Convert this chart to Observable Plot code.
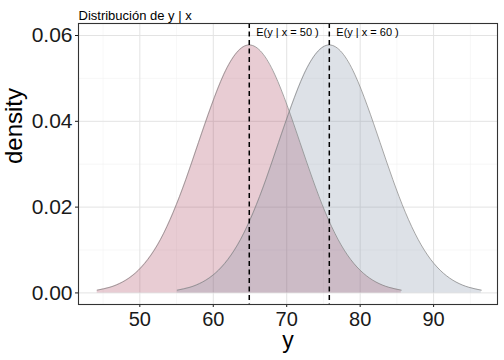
<!DOCTYPE html>
<html>
<head>
<meta charset="utf-8">
<script src="https://cdn.jsdelivr.net/npm/d3@7"></script>
<script src="https://cdn.jsdelivr.net/npm/@observablehq/plot@0.6"></script>
<style>
  html, body { margin: 0; padding: 0; background: white; }
</style>
</head>
<body>
<div id="chart"></div>
<script>
const title = "Distribución de y | x";
const xTicks = [50, 60, 70, 80, 90];
const xMinor = [45, 55, 65, 75, 85, 95];
const yTicks = [0, 0.02, 0.04, 0.06];
const yMinor = [0.01, 0.03, 0.05];

const meansX = [64.9, 75.8];
const meanLabels = ["E(y | x = 50 )", "E(y | x = 60 )"];
const labelY = [0.0606, 0.0606];

const y1 = [44.2, 45.93, 47.65, 49.38, 51.1, 52.83, 54.55, 56.28, 58.0, 59.73, 61.45, 63.18, 64.9,
            66.63, 68.35, 70.08, 71.8, 73.53, 75.25, 76.98, 78.7, 80.43, 82.15, 83.88, 85.6];
const dens1 = [0.00064, 0.00132, 0.00254, 0.0046, 0.00782, 0.0125, 0.0188, 0.0265, 0.0351, 0.0436, 0.051, 0.056, 0.0578,
               0.056, 0.051, 0.0436, 0.0351, 0.0265, 0.0188, 0.0125, 0.00782, 0.0046, 0.00254, 0.00132, 0.00064];
const y2 = [55.1, 56.83, 58.55, 60.28, 62.0, 63.73, 65.45, 67.18, 68.9, 70.63, 72.35, 74.08, 75.8,
            77.53, 79.25, 80.98, 82.7, 84.43, 86.15, 87.88, 89.6, 91.33, 93.05, 94.78, 96.5];
const dens2 = [0.00064, 0.00132, 0.00254, 0.0046, 0.00782, 0.0125, 0.0188, 0.0265, 0.0351, 0.0436, 0.051, 0.056, 0.0578,
               0.056, 0.051, 0.0436, 0.0351, 0.0265, 0.0188, 0.0125, 0.00782, 0.0046, 0.00254, 0.00132, 0.00064];

const curve1 = y1.map((v, i) => ({y: v, d: dens1[i]}));
const curve2 = y2.map((v, i) => ({y: v, d: dens2[i]}));
const labels = meansX.map((m, i) => ({x: m, y: labelY[i], t: meanLabels[i]}));

const chart = Plot.plot({
  width: 504,
  height: 360,
  marginLeft: 78,
  marginRight: 7,
  marginTop: 23,
  marginBottom: 56,
  style: {fontFamily: "'Liberation Sans', Arial, sans-serif", background: "white", color: "#1a1a1a"},
  x: {domain: [41.65, 98.7]},
  y: {domain: [-0.0027, 0.0628]},
  marks: [
    Plot.ruleX(xMinor, {stroke: "#f2f2f2", strokeWidth: 0.6}),
    Plot.ruleY(yMinor, {stroke: "#f2f2f2", strokeWidth: 0.6}),
    Plot.ruleX(xTicks, {stroke: "#e3e3e3", strokeWidth: 1}),
    Plot.ruleY(yTicks, {stroke: "#e3e3e3", strokeWidth: 1}),
    Plot.areaY(curve1, {x: "y", y: "d", fill: "#a3334f", fillOpacity: 0.25, curve: "natural"}),
    Plot.areaY(curve2, {x: "y", y: "d", fill: "#77879f", fillOpacity: 0.25, curve: "natural"}),
    Plot.lineY(curve1, {x: "y", y: "d", stroke: "#808080", strokeWidth: 0.7, curve: "natural"}),
    Plot.lineY(curve2, {x: "y", y: "d", stroke: "#808080", strokeWidth: 0.7, curve: "natural"}),
    Plot.ruleX(meansX, {stroke: "black", strokeWidth: 1.5, strokeDasharray: "5,3.5"}),
    Plot.text(labels, {x: "x", y: "y", text: "t", dx: 7, textAnchor: "start", fontSize: 11, fill: "black"}),
    Plot.axisX({ticks: xTicks, tickSize: 3, tickPadding: 4, fontSize: 20, label: null}),
    Plot.axisY({ticks: yTicks, tickSize: 3, tickPadding: 3, fontSize: 21, label: null, tickFormat: d => d.toFixed(2)}),
    Plot.text(["y"], {frameAnchor: "bottom", dy: 43, fontSize: 23, fill: "black"}),
    Plot.text(["density"], {frameAnchor: "left", dx: -64, rotate: -90, fontSize: 24, fill: "black"}),
    Plot.text([title], {frameAnchor: "top-left", dy: -13, textAnchor: "start", fontSize: 13, fill: "black"}),
    Plot.frame({stroke: "#333", strokeWidth: 1.1})
  ]
});
document.getElementById("chart").append(chart);
</script>
</body>
</html>
